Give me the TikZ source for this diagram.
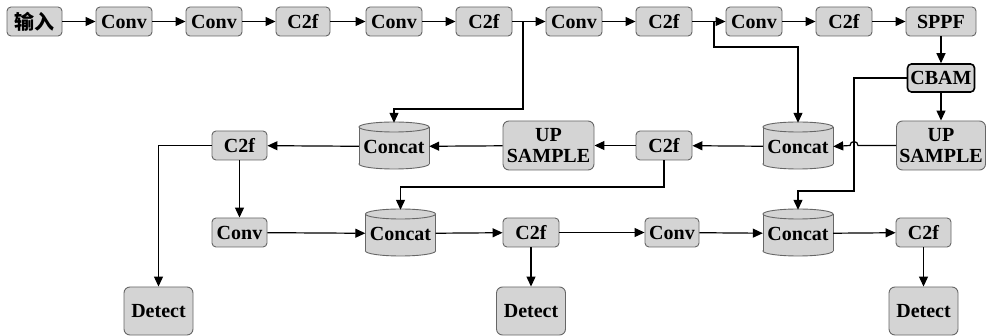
\documentclass[tikz,border=0pt]{standalone}
\usepackage{fontspec}
\setmainfont{Liberation Serif}
\newfontfamily\cjk{Noto Sans CJK SC}
\usetikzlibrary{arrows.meta}
\newcommand\mkcyl[3]{%
  \draw[cylst] (#2,#3+18.5) ellipse (35 and 5);
  \fill[fill=black!17] (#2-35,#3-18.5) rectangle (#2+35,#3+18.5);
  \draw[cylst] (#2-35,#3-18.5) -- (#2-35,#3+18.5) (#2+35,#3-18.5) -- (#2+35,#3+18.5);
  \draw[cylst] (#2,#3-18.5) ellipse (35 and 5);
  \node[cyltext] (#1) at (#2,#3+1) {Concat};
}
\begin{document}
\begin{tikzpicture}[x=1pt,y=-1pt,
  txt/.style={font=\bfseries\fontsize{20}{20.5}\selectfont, align=center, inner sep=0pt},
  box/.style={txt, draw=black!60, fill=black!17, rounded corners=4pt, line width=0.9pt, minimum height=29pt},
  bigbox/.style={box, rounded corners=6pt, minimum height=49pt},
  cbamst/.style={box, draw=black, line width=1.6pt, minimum height=28pt},
  cylst/.style={draw=black!60, fill=black!17, line width=0.9pt},
  cyltext/.style={txt, minimum width=70pt, minimum height=47pt},
  arr/.style={-{Triangle[length=10pt,width=9pt]}, line width=1.2pt, black}
]
\useasboundingbox (0,0) rectangle (987,336);
\fill[white] (0,0) rectangle (987,336);
% top row
\node[box, minimum width=55pt] (in) at (34.5,21.5) {\cjk\bfseries 输入};
\node[box, minimum width=56pt] (conv1) at (124,21.5) {Conv};
\node[box, minimum width=56pt] (conv2) at (214,21.5) {Conv};
\node[box, minimum width=54pt] (c2f1) at (303,21.5) {C2f};
\node[box, minimum width=56pt] (conv3) at (394,21.5) {Conv};
\node[box, minimum width=56pt] (c2f2) at (484,21.5) {C2f};
\node[box, minimum width=56pt] (conv4) at (574,21.5) {Conv};
\node[box, minimum width=56pt] (c2f3) at (664,21.5) {C2f};
\node[box, minimum width=56pt] (conv5) at (754,21.5) {Conv};
\node[box, minimum width=56pt] (c2f4) at (844,21.5) {C2f};
\node[box, minimum width=70pt] (sppf) at (941,21.5) {SPPF};
\node[cbamst, minimum width=67pt] (cbam) at (941,78) {CBAM};
% row 2
\node[box, minimum width=55pt] (c2f5) at (239.5,145.5) {C2f};
\mkcyl{concat1}{394}{145.5}
\node[bigbox, minimum width=91pt] (up1) at (548.5,145.5) {UP\\SAMPLE};
\node[box, minimum width=56pt] (c2f6) at (664,145.5) {C2f};
\mkcyl{concat2}{798}{145.5}
\node[bigbox, minimum width=89pt] (up2) at (941,145.5) {UP\\SAMPLE};
% row 3
\node[box, minimum width=55pt] (conv6) at (239.5,232.5) {Conv};
\mkcyl{concat3}{400.5}{232.5}
\node[box, minimum width=56pt] (c2f7) at (531,232.5) {C2f};
\node[box, minimum width=54pt] (conv7) at (672,232.5) {Conv};
\mkcyl{concat4}{798}{232.5}
\node[box, minimum width=55pt] (c2f8) at (923.5,232.5) {C2f};
% detects
\node[bigbox, minimum width=69pt, minimum height=48pt] (det1) at (158.5,311) {Detect};
\node[bigbox, minimum width=69pt, minimum height=48pt] (det2) at (531,311) {Detect};
\node[bigbox, minimum width=69pt, minimum height=48pt] (det3) at (923.5,311) {Detect};
% coordinates
\coordinate (b1) at (523,21.5);
\coordinate (b2) at (714,21.5);
% top row arrows
\draw[arr] (in) -- (conv1);
\draw[arr] (conv1) -- (conv2);
\draw[arr] (conv2) -- (c2f1);
\draw[arr] (c2f1) -- (conv3);
\draw[arr] (conv3) -- (c2f2);
\draw[arr] (c2f2) -- (conv4);
\draw[arr] (c2f3) -- (conv5);
\draw[arr] (conv4) -- (c2f3);
\draw[arr] (conv5) -- (c2f4);
\draw[arr] (c2f4) -- (sppf);
\draw[arr] (sppf) -- (cbam);
\draw[arr] (cbam) -- (up2);
% branches
\draw[arr] (b1) -- (523,109) -| (concat1.north);
\draw[arr] (b2) -- (714,47) -| (concat2.north);
\draw[arr] (cbam.west) -- (854,78) -- (854,191) -| (concat4.north);
% row 2 arrows
\draw[arr] (up2.west) -- (858,145.5) arc[start angle=0,end angle=-180,radius=4] -- (concat2.east);
\draw[arr] (concat2) -- (c2f6);
\draw[arr] (c2f6) -- (up1);
\draw[arr] (up1) -- (concat1);
\draw[arr] (concat1) -- (c2f5);
\draw[arr] (c2f5) -- (conv6);
\draw[arr] (c2f5.west) -| (det1.north);
\draw[arr] (c2f6.south) -- (664,187) -| (concat3.north);
% row 3 arrows
\draw[arr] (conv6) -- (concat3);
\draw[arr] (concat3) -- (c2f7);
\draw[arr] (c2f7) -- (conv7);
\draw[arr] (conv7) -- (concat4);
\draw[arr] (concat4) -- (c2f8);
\draw[arr] (c2f7) -- (det2);
\draw[arr] (c2f8) -- (det3);
\end{tikzpicture}
\end{document}
